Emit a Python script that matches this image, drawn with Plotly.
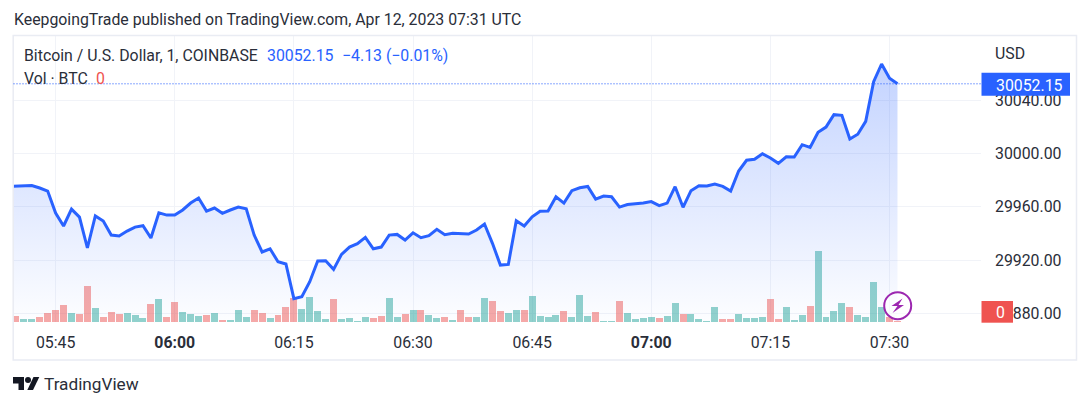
import pandas as pd
import plotly.graph_objects as go

# one price per minute, starts one minute before the first volume bar
minutes = pd.date_range("2023-04-12 05:39", "2023-04-12 07:31", freq="min")

price = [
    29975.2, 29975.3, 29975.5, 29975.9, 29974.0, 29971.7, 29955.2, 29945.5, 29958.2, 29952.2,
    29929.0, 29953.0, 29949.2, 29938.7, 29938.0, 29941.7, 29944.7, 29945.7, 29936.5, 29955.4,
    29953.7, 29953.7, 29957.5, 29962.7, 29966.5, 29956.7, 29959.0, 29955.0, 29957.5, 29959.7,
    29958.4, 29938.7, 29926.0, 29928.4, 29918.7, 29917.0, 29891.0, 29892.4, 29903.7, 29919.2,
    29919.4, 29913.0, 29924.2, 29929.7, 29932.2, 29937.0, 29928.4, 29929.7, 29938.7, 29939.2,
    29935.0, 29940.4, 29936.7, 29938.2, 29943.0, 29939.0, 29940.0, 29939.7, 29939.5, 29942.5,
    29947.0, 29932.5, 29916.2, 29916.7, 29949.4, 29945.5, 29952.4, 29956.5, 29956.7, 29967.4,
    29962.7, 29972.0, 29974.2, 29975.2, 29965.7, 29968.0, 29967.4, 29959.7, 29961.6, 29962.2,
    29962.7, 29963.8, 29960.8, 29962.7, 29975.0, 29959.5, 29972.0, 29975.7, 29975.5, 29977.0,
    29975.2, 29971.7, 29986.7, 29994.8, 29995.5, 29999.7, 29996.5, 29992.5, 29997.4, 29997.2,
    30006.5, 30004.5, 30015.8, 30019.7, 30029.0, 30028.5, 30010.7, 30014.3, 30024.0, 30053.7,
    30067.0, 30056.3, 30052.15,
]

volume = [
    6, 3, 3, 4.7, 9, 11.7, 17, 8.7, 8, 35.7, 14, 4.7, 10, 7.7, 8.7, 7, 4, 18, 23, 5.3,
    20, 10, 7.7, 6, 7, 9, 2, 2, 11.7, 4.7, 11.7, 9, 3.7, 7, 14.7, 24, 13, 24.7, 10.7, 3,
    23, 3, 4, 1.3, 5.3, 3.7, 6, 24, 4.7, 7.7, 11.7, 12.3, 7, 3.7, 4.7, 2, 11.7, 4.7, 5.3, 24,
    21, 11, 9, 12.3, 12.3, 25.7, 6, 4.7, 7, 11, 5.3, 27, 6.3, 10, 1.3, 1.3, 21, 9.3, 3, 4,
    5.3, 3.7, 6, 18.7, 7.7, 8.3, 3, 1.3, 15.3, 3, 3, 7.7, 3.7, 3.7, 5.3, 22.7, 3, 15.3, 2, 7,
    16, 70.7, 4.7, 11, 19.3, 14.7, 7, 4.7, 39.7, 15.3, 5.3, 1.3,
]

# r = down candle, g = up candle
vol_side = [
    "r", "g", "g", "r", "r", "r", "r", "g", "r", "r", "g", "r", "r", "r", "g", "g", "g", "r", "g", "r",
    "r", "g", "g", "g", "r", "g", "r", "g", "g", "g", "r", "r", "g", "r", "r", "r", "g", "g", "g", "g",
    "r", "g", "g", "g", "g", "r", "r", "g", "g", "r", "g", "r", "g", "g", "r", "g", "r", "r", "g", "g",
    "r", "r", "g", "g", "r", "g", "g", "g", "g", "r", "g", "g", "g", "r", "g", "g", "r", "g", "g", "g",
    "g", "r", "g", "g", "r", "g", "g", "g", "g", "r", "r", "g", "g", "g", "g", "r", "r", "g", "g", "g",
    "r", "g", "g", "g", "g", "r", "g", "g", "g", "g", "r", "r",
]

y_ticks = [29880, 29920, 29960, 30000, 30040, 30080]
x_ticks = ["05:45", "06:00", "06:15", "06:30", "06:45", "07:00", "07:15", "07:30"]
last_price = 30052.15

BLUE = "#2962ff"
TEXT = "#2a2e39"
FRAME = "#e9ecf3"
GRID = "#f1f3f8"
FONT = "Roboto"

# plot box in page pixels
LEFT, RIGHT, TOP, BOTTOM = 13, 981, 36, 322


def fx(px):
    return (px - LEFT) / (RIGHT - LEFT)


def fy(py):
    return (BOTTOM - py) / (BOTTOM - TOP)


def label(px, py, text, color=TEXT, size=15.85, anchor="left"):
    return dict(
        xref="paper", yref="paper", x=fx(px), y=fy(py), text=text, showarrow=False,
        xanchor=anchor, yanchor="middle", align=anchor, borderpad=0,
        font=dict(family=FONT, size=size, color=color),
    )


def poly(points):
    path = "M " + " L ".join(f"{fx(x)} {fy(y)}" for x, y in points) + " Z"
    return dict(type="path", xref="paper", yref="paper", path=path,
                fillcolor="#131722", line=dict(width=0), layer="above")


def box(x0, y0, x1, y1, **kw):
    return dict(type="rect", xref="paper", yref="paper", x0=fx(x0), x1=fx(x1),
                y0=fy(y0), y1=fy(y1), layer="above", **kw)


fig = go.Figure()

bar_colors = ["rgba(239,83,80,0.5)" if s == "r" else "rgba(38,166,154,0.5)" for s in vol_side]
fig.add_trace(go.Bar(
    x=minutes[1:], y=volume, yaxis="y", width=60000 * 0.88,
    marker=dict(color=bar_colors, line=dict(width=0)), hoverinfo="skip",
))

fig.add_trace(go.Scatter(
    x=minutes, y=price, yaxis="y2", mode="lines",
    line=dict(color=BLUE, width=3), fill="tozeroy",
    fillgradient=dict(
        type="vertical", start=29873.5, stop=30067,
        colorscale=[[0, "rgba(41,98,255,0.01)"], [1, "rgba(41,98,255,0.28)"]],
    ),
))

tick_dates = ["2023-04-12 " + t for t in x_ticks]
tick_text = [f"<b>{t}</b>" if t.endswith(":00") else t for t in x_ticks]

shapes = [
    # outer frame of the widget
    box(13.2, 35.5, 1076.5, 360, line=dict(color=FRAME, width=1.5), fillcolor="rgba(0,0,0,0)"),
    # last price line
    dict(type="line", xref="paper", yref="y2", x0=0, x1=1, y0=last_price, y1=last_price,
         line=dict(color="rgba(41,98,255,0.55)", width=1, dash="2px,1px")),
    # price scale badges
    box(981.5, 72.7, 1070, 95.7, fillcolor=BLUE, line=dict(width=0)),
    box(981.5, 301, 1013, 322.7, fillcolor="#ef5350", line=dict(width=0)),
    # lightning mark
    dict(type="circle", xref="paper", yref="paper", x0=fx(884.2), x1=fx(911.2),
         y0=fy(292.2), y1=fy(319.2), fillcolor="rgba(255,255,255,0.55)",
         line=dict(color="#9c27b0", width=2), layer="above"),
    dict(poly([(902.5, 298.5), (891.5, 306), (897.5, 306), (892.5, 313), (904, 305), (898.5, 305)]),
         fillcolor="#9c27b0"),
    # TradingView logo
    poly([(13, 377), (24, 377), (24, 390), (18.5, 390), (18.5, 383.5), (13, 383.5)]),
    dict(type="circle", xref="paper", yref="paper", x0=fx(25), x1=fx(31),
         y0=fy(377), y1=fy(383), fillcolor="#131722", line=dict(width=0), layer="above"),
    poly([(33.5, 377), (39.3, 377), (33, 390), (27.3, 390)]),
]

annotations = [
    label(13, 20, "KeepgoingTrade published on TradingView.com, Apr 12, 2023 07:31 UTC"),
    label(23, 56, "Bitcoin / U.S. Dollar, 1, COINBASE"),
    label(266, 56, "30052.15", color=BLUE),
    label(341, 56, "−4.13 (−0.01%)", color=BLUE),
    label(23, 78, "Vol · BTC"),
    label(95, 78, "0", color="#ef5350"),
    label(994, 53, "USD"),
    label(995, 85, "30052.15", color="#ffffff"),
    label(995, 312, "0", color="#ffffff"),
    label(43, 384, "TradingView", color="#2a2e39", size=17.2),
]

fig.update_layout(
    width=1090, height=407, autosize=False,
    margin=dict(l=LEFT, r=1090 - RIGHT, t=TOP, b=407 - BOTTOM, pad=0),
    paper_bgcolor="#ffffff", plot_bgcolor="#ffffff",
    showlegend=False, bargap=0,
    font=dict(family=FONT, size=15.85, color=TEXT),
    xaxis=dict(
        range=["2023-04-12 05:39:38", "2023-04-12 07:41:31"],
        tickvals=tick_dates, ticktext=tick_text, tickangle=0,
        showgrid=True, gridcolor=GRID, gridwidth=1, zeroline=False, showline=False,
        ticks="", ticklabelstandoff=9, tickfont=dict(family=FONT, size=15.85, color=TEXT),
    ),
    yaxis=dict(
        range=[0, 286], showgrid=False, zeroline=False, showticklabels=False, ticks="",
    ),
    yaxis2=dict(
        overlaying="y", side="right", range=[29873.5, 30088],
        tickvals=y_ticks[:-1], ticktext=[f"{v:.2f}" for v in y_ticks[:-1]],
        showgrid=True, gridcolor=GRID, gridwidth=1, zeroline=False, showline=False,
        ticks="", ticklabelstandoff=13, tickfont=dict(family=FONT, size=15.85, color=TEXT),
    ),
    shapes=shapes,
    annotations=annotations,
)

fig.write_html("out.html", config={"displayModeBar": False},
               post_script="document.body.style.margin='0';")
